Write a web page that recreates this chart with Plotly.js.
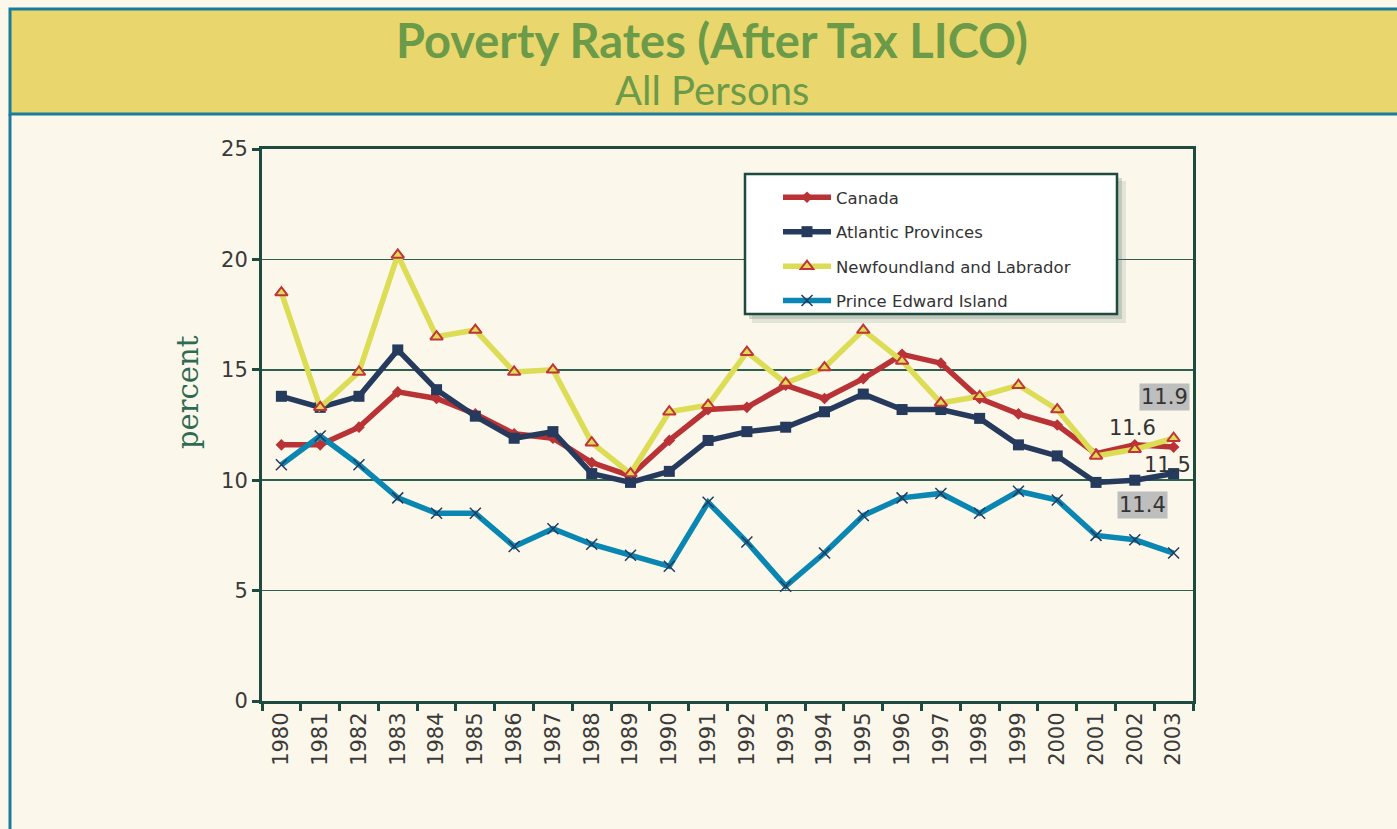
<!DOCTYPE html>
<html>
<head>
<meta charset="utf-8">
<script src="https://cdn.plot.ly/plotly-3.0.1.min.js"></script>
<style>
html,body{margin:0;padding:0;background:#FBF7EA;}
#chart{width:1397px;height:829px;}
</style>
</head>
<body>
<div id="chart"></div>
<script>
const years = ["1980","1981","1982","1983","1984","1985","1986","1987","1988","1989","1990","1991","1992","1993","1994","1995","1996","1997","1998","1999","2000","2001","2002","2003"];
const canada = [11.6,11.6,12.4,14.0,13.7,13.0,12.1,11.9,10.8,10.2,11.8,13.2,13.3,14.3,13.7,14.6,15.7,15.3,13.7,13.0,12.5,11.2,11.6,11.5];
const atlantic = [13.8,13.3,13.8,15.9,14.1,12.9,11.9,12.2,10.3,9.9,10.4,11.8,12.2,12.4,13.1,13.9,13.2,13.2,12.8,11.6,11.1,9.9,10.0,10.3];
const newfoundland = [18.5,13.3,14.9,20.2,16.5,16.8,14.9,15.0,11.7,10.3,13.1,13.4,15.8,14.4,15.1,16.8,15.4,13.5,13.8,14.3,13.2,11.1,11.4,11.9];
const pei = [10.7,12.0,10.7,9.2,8.5,8.5,7.0,7.8,7.1,6.6,6.1,9.0,7.2,5.2,6.7,8.4,9.2,9.4,8.5,9.5,9.1,7.5,7.3,6.7];
const seriesNames = ["Canada","Atlantic Provinces","Newfoundland and Labrador","Prince Edward Island"];
const endLabels = ["11.9","11.6","11.5","11.4"];

const green = "#1F4A3F";
const traces = [
  {x: years, y: canada, name: seriesNames[0], type: "scatter", mode: "lines+markers", legendgroup: "a",
   line: {color: "#B83236", width: 5.5}, marker: {symbol: "diamond", size: 9, color: "#B83236"}},
  {x: years, y: atlantic, name: seriesNames[1], type: "scatter", mode: "lines+markers", legendgroup: "b",
   line: {color: "#253A5C", width: 5.5}, marker: {symbol: "square", size: 11, color: "#253A5C"}},
  {x: years, y: newfoundland, name: seriesNames[2], type: "scatter", mode: "lines+markers", legendgroup: "c",
   line: {color: "#DCDC55", width: 5.5}, marker: {symbol: "triangle-up", size: 11, color: "#DCDC55", line: {color: "#C0343A", width: 2}}},
  {x: years, y: pei, name: seriesNames[3], type: "scatter", mode: "lines+markers", legendgroup: "d",
   line: {color: "#0A86B2", width: 5.5}, marker: {symbol: "x-thin", size: 11, line: {color: "#253A5C", width: 1.5}}}
];

const px = v => (v - 262) / 931;
const py = v => (701 - v) / 552;

const shapes = [
  {type: "rect", xref: "paper", yref: "paper", x0: px(10), x1: px(1420), y0: py(114), y1: py(9),
   fillcolor: "#E9D76D", line: {color: "#1B7B9B", width: 3}, layer: "below"},
  {type: "line", xref: "paper", yref: "paper", x0: px(10), x1: px(10), y0: py(114), y1: py(840),
   line: {color: "#1B7B9B", width: 3}, layer: "below"},
  {type: "rect", xref: "paper", yref: "paper", x0: px(752), x1: px(1126), y0: py(323), y1: py(181),
   fillcolor: "rgba(90,120,105,0.15)", line: {width: 0}, layer: "above"},
  {type: "rect", xref: "paper", yref: "paper", x0: px(749), x1: px(1122), y0: py(319), y1: py(178),
   fillcolor: "rgba(90,120,105,0.25)", line: {width: 0}, layer: "above"},
  {type: "rect", xref: "paper", yref: "paper", x0: px(745), x1: px(1117), y0: py(314), y1: py(174),
   fillcolor: "#FFFFFF", line: {color: green, width: 2.5}, layer: "above"}
];

const labelFont = {family: "DejaVu Sans", size: 21, color: "#333333"};
const annotations = [
  {text: "All Persons", xref: "paper", yref: "paper", x: px(712), y: py(90), showarrow: false,
   font: {family: "Lato", size: 40, color: "#6B9B48"}, xanchor: "center", yanchor: "middle"},
  {text: "percent", xref: "paper", yref: "paper", x: px(188), y: py(392), showarrow: false, textangle: -90,
   font: {family: "DejaVu Serif", size: 29, color: "#2E6B52"}, xanchor: "center", yanchor: "middle"},
  {text: endLabels[0], x: 22.77, y: 13.77, xref: "x", yref: "y", showarrow: false, font: labelFont, bgcolor: "#BEBEBE", borderpad: 1},
  {text: endLabels[1], x: 21.93, y: 12.36, xref: "x", yref: "y", showarrow: false, font: labelFont},
  {text: endLabels[2], x: 22.85, y: 10.69, xref: "x", yref: "y", showarrow: false, font: labelFont},
  {text: endLabels[3], x: 22.19, y: 8.88, xref: "x", yref: "y", showarrow: false, font: labelFont, bgcolor: "#BEBEBE", borderpad: 1}
];

const layout = {
  width: 1397, height: 829,
  paper_bgcolor: "#FBF7EA", plot_bgcolor: "#FBF7EA",
  margin: {l: 262, r: 204, t: 149, b: 128},
  title: {text: "<b>Poverty Rates (After Tax LICO)</b>", x: px(712), xref: "paper", xanchor: "center",
          y: 1 - 42/829, yref: "container", yanchor: "middle",
          font: {family: "Lato", size: 47, color: "#6B9B48"}},
  showlegend: true,
  legend: {x: px(778), y: py(180), xanchor: "left", yanchor: "top", bgcolor: "rgba(0,0,0,0)", borderwidth: 0,
           font: {family: "DejaVu Sans", size: 16.5, color: "#333333"}, tracegroupgap: 10, itemwidth: 48},
  xaxis: {type: "category", range: [-0.5, 23.5], tickson: "boundaries", ticks: "outside", ticklen: 7, tickwidth: 3,
          tickcolor: green, tickangle: -90, tickfont: {family: "DejaVu Sans", size: 21, color: "#3A3A3A"},
          showline: true, linecolor: green, linewidth: 3, mirror: true, showgrid: false, zeroline: false, fixedrange: true},
  yaxis: {range: [0, 25], dtick: 5, ticks: "outside", ticklen: 7, tickwidth: 3, tickcolor: green,
          tickfont: {family: "DejaVu Sans", size: 21, color: "#3A3A3A"},
          showline: true, linecolor: green, linewidth: 3, mirror: true,
          showgrid: true, gridcolor: "#2F5F4F", gridwidth: 1.5, zeroline: false},
  shapes: shapes,
  annotations: annotations
};

Plotly.newPlot("chart", traces, layout, {displayModeBar: false, staticPlot: true});
</script>
</body>
</html>
